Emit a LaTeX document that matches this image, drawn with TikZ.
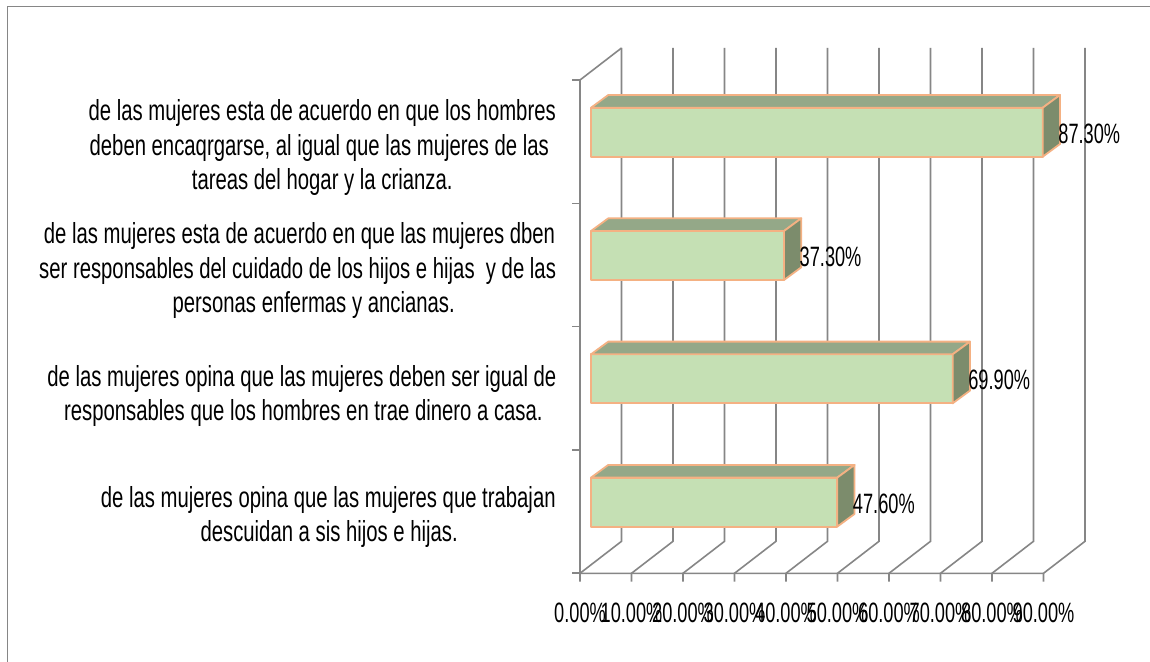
\documentclass[tikz,border=0pt]{standalone}
\usepackage{fontspec}
\newfontfamily\labfont[FakeStretch=0.70]{Liberation Sans}
\newfontfamily\numfont[FakeStretch=0.65]{Liberation Sans}
\definecolor{gridgray}{RGB}{134,134,134}
\definecolor{barfront}{RGB}{197,224,180}
\definecolor{bartop}{RGB}{148,168,136}
\definecolor{barside}{RGB}{124,140,108}
\definecolor{barline}{RGB}{244,177,131}
\begin{document}
\begin{tikzpicture}[x=1pt,y=-1pt,
  gridln/.style={draw=gridgray,line width=1.6pt},
  catlab/.style={font=\labfont\fontsize{29}{34}\selectfont, anchor=base, inner sep=0pt},
  numlab/.style={font=\numfont\fontsize{28}{32}\selectfont, inner sep=0pt},
  barface/.style={draw=barline,line width=1.8pt,line join=round}]
\fill[white] (0,0) rectangle (1150,661);
\useasboundingbox (0,0) rectangle (1150,661);
% chart border
\draw[draw=gridgray,line width=1.5pt] (7.5,670) -- (7.5,6.7) -- (1160,6.7);
% back wall gridlines and floor
\foreach \k in {0,...,9} {
  \draw[gridln] (621.5+51.5*\k,48) -- (621.5+51.5*\k,541.3) -- (580+51.5*\k,573.3) -- (580+51.5*\k,581.5);
}
% left wall and front axis
\draw[gridln] (621.5,48) -- (580,80) -- (580,573.3) -- (1043.5,573.3);
\foreach \j in {0,...,4} {
  \draw[gridln] (572,80+123.3*\j) -- (580,80+123.3*\j);
}
% bars
\foreach \i/\v/\lab in {0/87.3/87.30\%,1/37.3/37.30\%,2/69.9/69.90\%,3/47.6/47.60\%} {
  \pgfmathsetmacro\xr{591+5.174*\v}
  \pgfmathsetmacro\yt{107.7+123.3*\i}
  \pgfmathsetmacro\yb{\yt+49}
  \filldraw[barface,fill=barfront] (591,\yt) rectangle (\xr,\yb);
  \filldraw[barface,fill=bartop] (591,\yt) -- (608.3,\yt-12.7) -- (\xr+17.3,\yt-12.7) -- (\xr,\yt) -- cycle;
  \filldraw[barface,fill=barside] (\xr,\yt) -- (\xr+17.3,\yt-12.7) -- (\xr+17.3,\yb-12.7) -- (\xr,\yb) -- cycle;
  \node[numlab,anchor=base west] (val\i) at (\xr+15.5,\yt+35.5) {\lab};
}
% axis labels
\foreach \k/\t in {0/0.00\%,1/10.00\%,2/20.00\%,3/30.00\%,4/40.00\%,5/50.00\%,6/60.00\%,7/70.00\%,8/80.00\%,9/90.00\%} {
  \node[numlab,anchor=base] (ax\k) at (580+51.5*\k,622.3) {\t};
}
% category labels
\node[catlab] (g1a) at (322.2,120.5) {de las mujeres esta de acuerdo en que los hombres};
\node[catlab] (g1b) at (319.3,155) {deben encaqrgarse, al igual que las mujeres de las};
\node[catlab] (g1c) at (322.2,189.5) {tareas del hogar y la crianza.};
\node[catlab] (g2a) at (299.5,243.8) {de las mujeres esta de acuerdo en que las mujeres dben};
\node[catlab] (g2b) at (297.6,278.3) {ser responsables del cuidado de los hijos e hijas\ \ y de las};
\node[catlab] (g2c) at (313.7,312.8) {personas enfermas y ancianas.};
\node[catlab] (g3a) at (301.9,386) {de las mujeres opina que las mujeres deben ser igual de};
\node[catlab] (g3b) at (303.4,420.5) {responsables que los hombres en trae dinero a casa.};
\node[catlab] (g4a) at (328.3,507) {de las mujeres opina que las mujeres que trabajan};
\node[catlab] (g4b) at (329.2,541.5) {descuidan a sis hijos e hijas.};
\end{tikzpicture}
\end{document}
